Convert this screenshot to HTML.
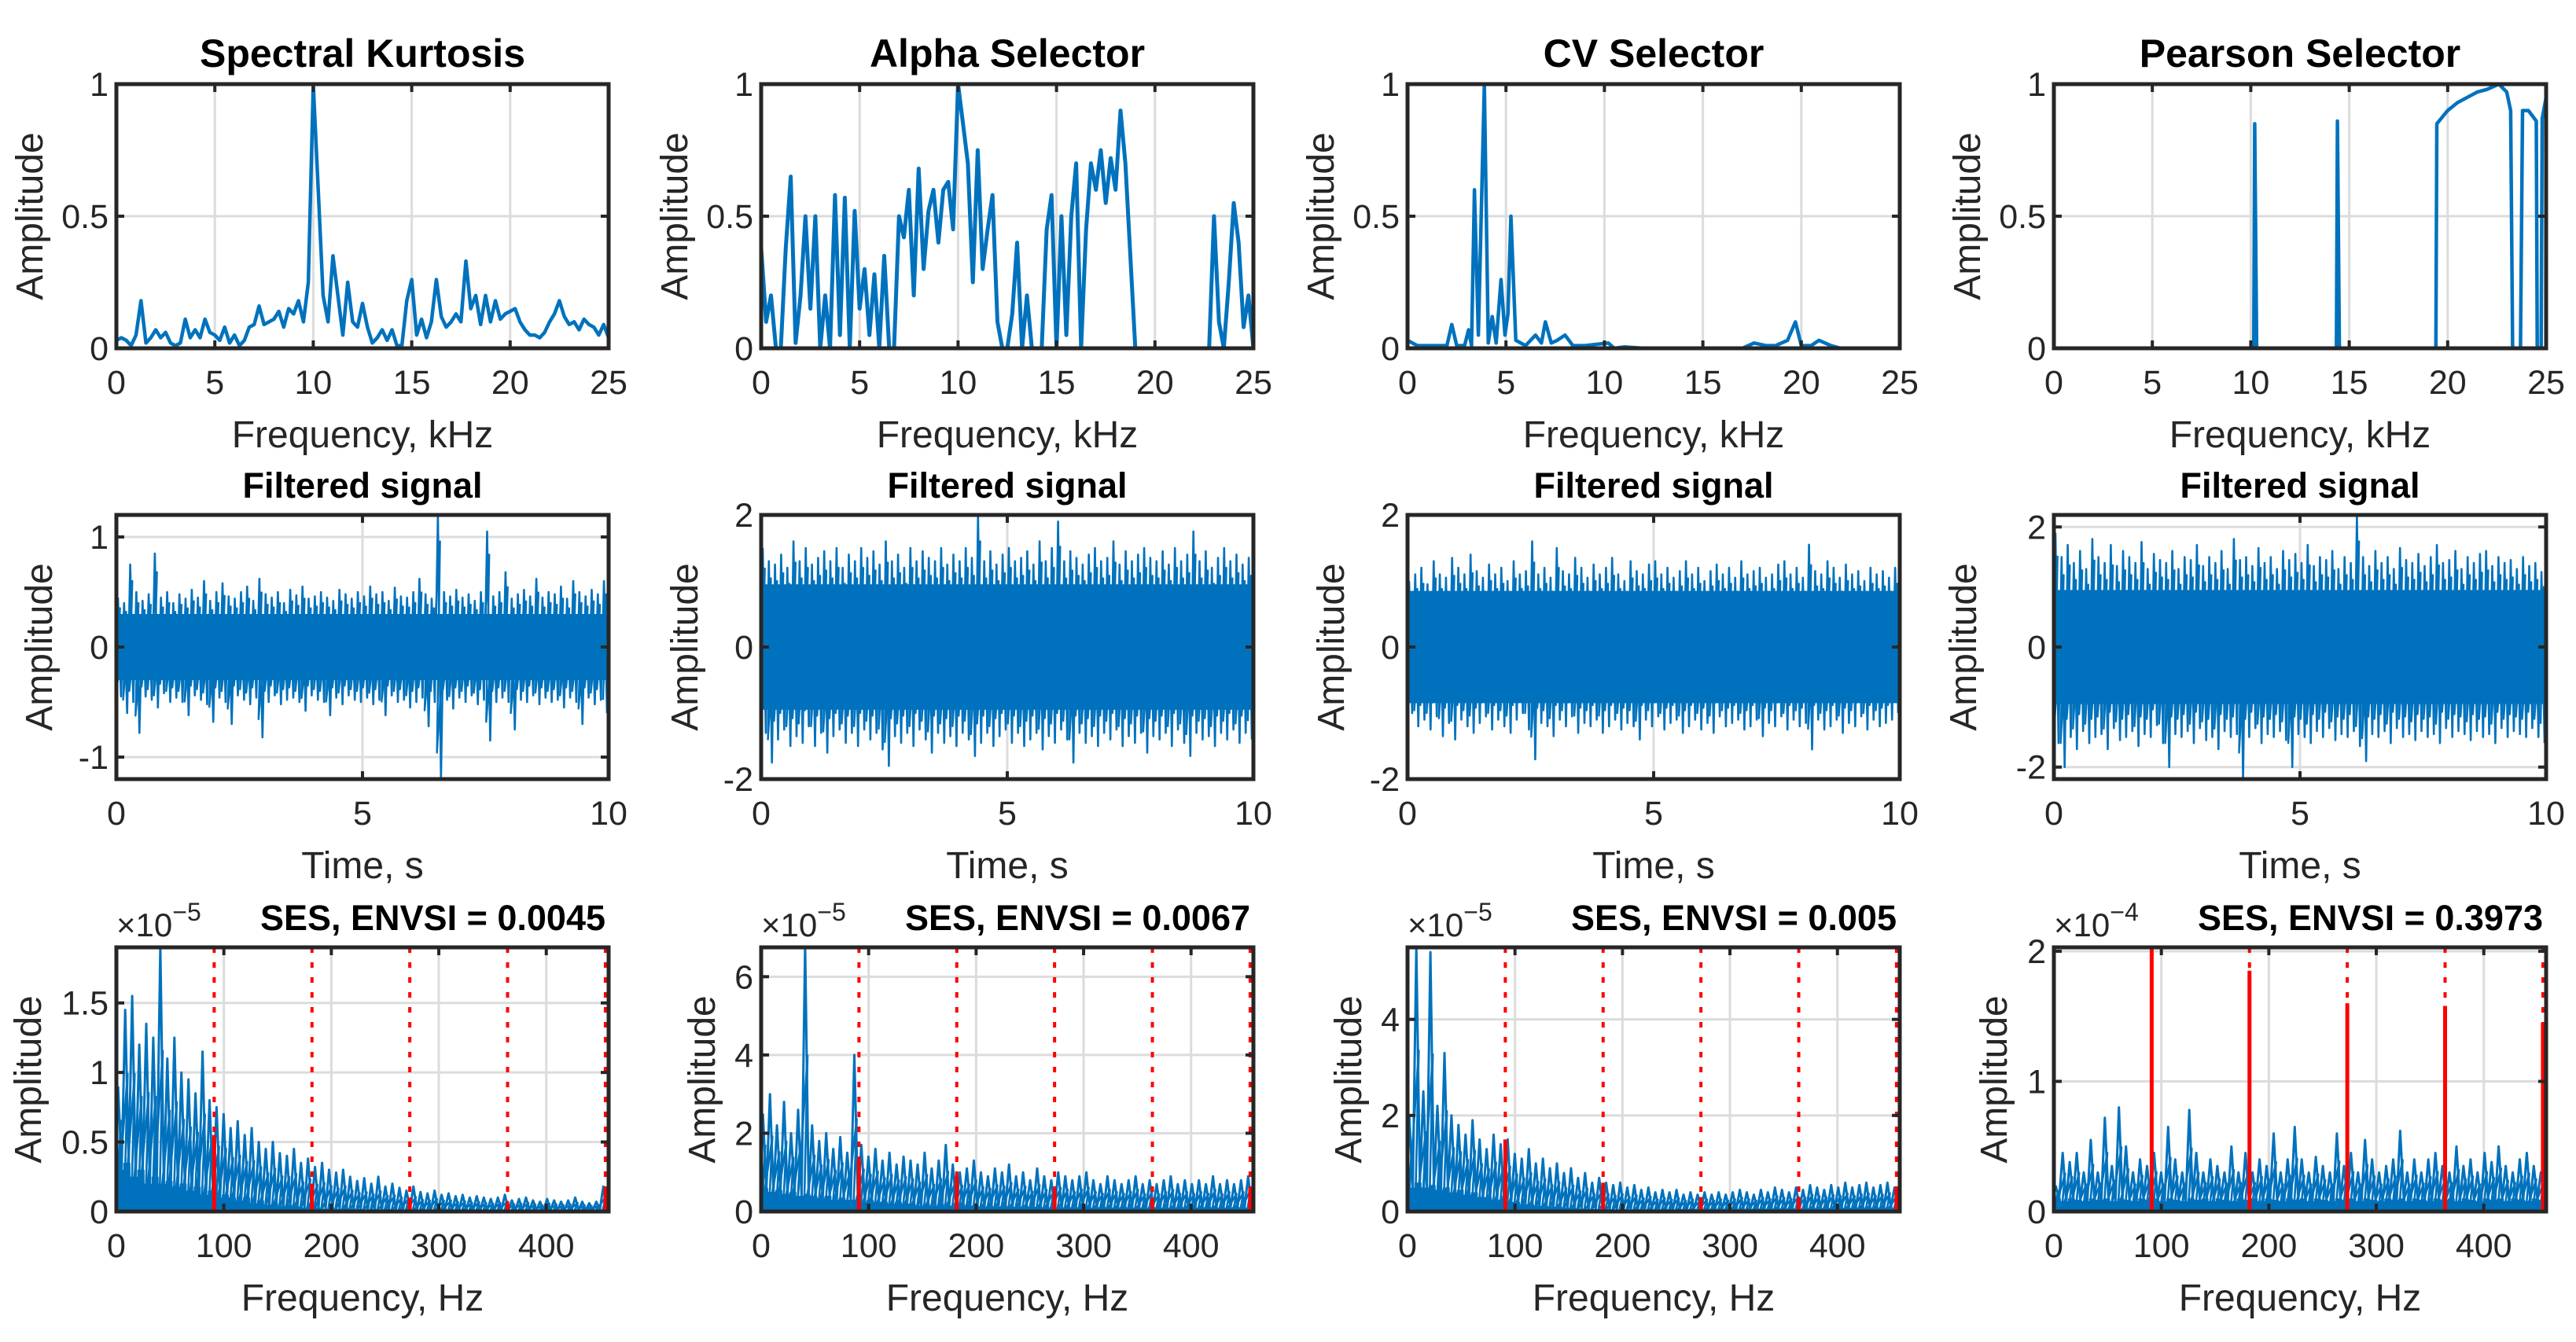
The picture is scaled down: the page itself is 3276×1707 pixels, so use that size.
<!DOCTYPE html>
<html><head><meta charset="utf-8">
<style>
html,body{margin:0;padding:0;background:#fff;}
svg{display:block;}
text{font-family:"Liberation Sans",Arial,sans-serif;fill:#262626;}
</style></head>
<body>
<svg id="fig" width="3276" height="1707" viewBox="0 0 3276 1707" xmlns="http://www.w3.org/2000/svg"></svg>
<script>
// ---------- Top row: selector spectra (kHz) ----------
const skAmp=[0.03,0.04,0.03,0.01,0.05,0.18,0.02,0.04,0.07,0.04,0.06,0.02,0.01,0.02,0.11,0.04,0.07,0.04,0.11,0.06,0.05,0.03,0.08,0.02,0.05,0.01,0.03,0.08,0.09,0.16,0.09,0.1,0.11,0.14,0.08,0.15,0.13,0.18,0.1,0.25,1.0,0.6,0.2,0.1,0.35,0.2,0.05,0.25,0.1,0.08,0.17,0.08,0.02,0.04,0.07,0.03,0.07,0.01,0.01,0.18,0.26,0.05,0.11,0.04,0.1,0.26,0.12,0.08,0.1,0.13,0.1,0.33,0.15,0.2,0.09,0.2,0.1,0.18,0.11,0.13,0.14,0.15,0.1,0.07,0.05,0.05,0.04,0.06,0.1,0.13,0.18,0.12,0.09,0.1,0.07,0.11,0.09,0.08,0.05,0.09,0.04];
const alphaAmp=[0.38,0.1,0.2,0,0,0.38,0.65,0.02,0.2,0.5,0.15,0.5,0,0.2,0,0.58,0.05,0.57,0,0.52,0.15,0.3,0.05,0.28,0,0.35,0,0,0.5,0.42,0.6,0.2,0.68,0.3,0.52,0.6,0.4,0.6,0.63,0.45,1.0,0.85,0.7,0.25,0.75,0.3,0.45,0.58,0.1,0,0,0.13,0.4,0,0.2,0,0,0,0.45,0.58,0,0.5,0.05,0.5,0.7,0,0.45,0.7,0.6,0.75,0.55,0.72,0.6,0.9,0.7,0.35,0,0,0,0,0,0,0,0,0,0,0,0,0,0,0,0,0.5,0.1,0,0.25,0.55,0.4,0.08,0.2,0];
const cvFreq=[0,0.5,1,1.5,2,2.25,2.5,2.9,3.1,3.25,3.4,3.6,3.9,4.1,4.3,4.5,4.75,4.95,5.1,5.25,5.5,6.0,6.5,6.8,7.0,7.3,7.6,8.0,8.4,9,10.2,10.5,11,12,17,17.6,18.2,18.7,19.3,19.7,20,20.5,20.9,21.5,22,25];
const cvAmp=[0.03,0.01,0.01,0.01,0.01,0.09,0.01,0.01,0.07,0.01,0.6,0.05,1.0,0.02,0.12,0.02,0.26,0.05,0.13,0.5,0.03,0.01,0.05,0.02,0.1,0.02,0.03,0.05,0.01,0.01,0.02,0,0.005,0,0,0.02,0.01,0.01,0.03,0.1,0.01,0.01,0.03,0.01,0,0];
const prFreq=[0,10.15,10.2,10.3,14.35,14.4,14.5,19.4,19.45,20,20.5,21,21.5,22,22.6,23,23.2,23.3,23.7,23.8,24.1,24.5,24.55,24.75,24.8,25];
const prAmp=[0,0,0.85,0,0,0.86,0,0,0.85,0.9,0.93,0.95,0.97,0.98,1.0,0.97,0.9,0,0,0.9,0.9,0.86,0,0,0.87,0.95];
const topTitles=["Spectral Kurtosis","Alpha Selector","CV Selector","Pearson Selector"];
const topXTicks=[0,5,10,15,20,25];
const topYTicks=[0,0.5,1];

// ---------- Middle row: filtered signals (envelope per time bin) ----------
const sigCore=[0.3,0.95,0.85,0.95];
const kHi=[0.45,0.4,0.75,0.5,0.42,0.48,0.85,0.45,0.5,0.4,0.48,0.44,0.52,0.45,0.6,0.42,0.5,0.58,0.46,0.44,0.5,0.55,0.42,0.62,0.48,0.45,0.5,0.4,0.52,0.47,0.55,0.44,0.46,0.5,0.45,0.42,0.52,0.48,0.44,0.5,0.46,0.55,0.48,0.5,0.42,0.54,0.46,0.45,0.5,0.62,0.48,0.44,1.2,0.5,0.46,0.52,0.45,0.48,0.42,0.5,1.05,0.46,0.5,0.68,0.44,0.48,0.52,0.46,0.62,0.45,0.5,0.48,0.55,0.44,0.6,0.5,0.46,0.52,0.48,0.6];
const kLo=[-0.45,-0.6,-0.5,-0.78,-0.45,-0.48,-0.55,-0.42,-0.5,-0.46,-0.5,-0.62,-0.44,-0.48,-0.52,-0.68,-0.46,-0.5,-0.7,-0.44,-0.48,-0.52,-0.46,-0.82,-0.5,-0.44,-0.52,-0.48,-0.46,-0.5,-0.58,-0.44,-0.48,-0.5,-0.62,-0.46,-0.52,-0.44,-0.48,-0.5,-0.46,-0.52,-0.48,-0.62,-0.44,-0.5,-0.48,-0.55,-0.5,-0.46,-0.72,-0.5,-1.2,-0.48,-0.56,-0.46,-0.5,-0.44,-0.52,-0.48,-0.85,-0.5,-0.46,-0.5,-0.75,-0.48,-0.5,-0.44,-0.52,-0.46,-0.5,-0.48,-0.55,-0.46,-0.5,-0.7,-0.46,-0.52,-0.48,-0.6];
const aHi=[1.5,1.3,1.25,1.4,1.2,1.6,1.3,1.5,1.25,1.35,1.45,1.3,1.5,1.2,1.4,1.3,1.5,1.35,1.45,1.25,1.6,1.3,1.4,1.2,1.5,1.3,1.45,1.35,1.3,1.5,1.25,1.4,1.3,1.5,1.35,2.0,1.3,1.45,1.25,1.4,1.5,1.3,1.35,1.45,1.25,1.6,1.3,1.5,1.9,1.3,1.45,1.35,1.25,1.4,1.5,1.3,1.35,1.6,1.25,1.45,1.3,1.4,1.5,1.35,1.3,1.45,1.25,1.5,1.3,1.4,1.75,1.3,1.45,1.2,1.35,1.5,1.3,1.4,1.25,1.35];
const aLo=[-1.3,-1.75,-1.4,-1.25,-1.5,-1.35,-1.45,-1.2,-1.5,-1.3,-1.6,-1.35,-1.25,-1.45,-1.3,-1.5,-1.25,-1.4,-1.3,-1.55,-1.8,-1.35,-1.45,-1.3,-1.5,-1.25,-1.4,-1.6,-1.3,-1.45,-1.35,-1.5,-1.3,-1.4,-1.65,-1.45,-1.3,-1.5,-1.35,-1.25,-1.45,-1.3,-1.5,-1.4,-1.3,-1.55,-1.35,-1.45,-1.25,-1.4,-1.75,-1.3,-1.45,-1.35,-1.5,-1.3,-1.4,-1.25,-1.5,-1.35,-1.45,-1.3,-1.6,-1.35,-1.4,-1.3,-1.5,-1.25,-1.45,-1.65,-1.3,-1.4,-1.35,-1.5,-1.3,-1.4,-1.25,-1.45,-1.3,-1.4];
const cHi=[1.0,1.1,1.2,0.95,1.3,1.1,1.05,1.35,1.2,1.1,1.4,1.15,1.05,1.25,1.1,1.2,1.0,1.3,1.1,1.15,1.6,1.1,1.2,1.05,1.5,1.15,1.1,1.35,1.2,1.05,1.25,1.1,1.2,1.35,1.1,1.0,1.3,1.15,1.1,1.25,1.3,1.1,1.2,1.05,1.15,1.3,1.1,1.2,1.0,1.15,1.25,1.1,1.2,1.05,1.3,1.1,1.15,1.2,1.05,1.1,1.25,1.3,1.1,1.2,1.05,1.55,1.15,1.1,1.3,1.2,1.05,1.25,1.1,1.15,1.0,1.2,1.1,1.15,1.05,1.2];
const cLo=[-1.0,-1.2,-1.1,-1.25,-1.05,-1.35,-1.15,-1.4,-1.1,-1.2,-1.3,-1.15,-1.05,-1.25,-1.1,-1.2,-1.3,-1.1,-1.0,-1.25,-1.7,-1.15,-1.2,-1.35,-1.1,-1.2,-1.05,-1.3,-1.15,-1.2,-1.1,-1.3,-1.2,-1.1,-1.25,-1.15,-1.2,-1.4,-1.1,-1.2,-1.05,-1.25,-1.15,-1.1,-1.3,-1.2,-1.1,-1.25,-1.15,-1.3,-1.05,-1.2,-1.15,-1.1,-1.25,-1.2,-1.1,-1.35,-1.15,-1.2,-1.05,-1.25,-1.1,-1.2,-1.15,-1.55,-1.1,-1.25,-1.2,-1.1,-1.3,-1.15,-1.2,-1.05,-1.25,-1.1,-1.2,-1.15,-1.1,-1.0];
const pHi=[1.9,1.5,1.7,1.4,1.6,1.3,1.8,1.5,1.4,1.7,1.35,1.6,1.5,1.4,1.75,1.3,1.55,1.45,1.4,1.6,1.3,1.5,1.45,1.7,1.35,1.5,1.4,1.6,1.3,1.8,1.45,1.5,1.35,1.65,1.4,1.5,1.3,1.6,1.45,1.55,1.4,1.7,1.35,1.5,1.45,1.6,1.3,1.5,1.4,2.2,1.5,1.35,1.6,1.4,1.5,1.3,1.65,1.45,1.4,1.55,1.35,1.5,1.7,1.4,1.45,1.6,1.3,1.5,1.4,1.55,1.6,1.35,1.5,1.4,1.45,1.3,1.5,1.35,1.4,1.25];
const pLo=[-1.6,-2.0,-1.5,-1.7,-1.4,-1.6,-1.5,-1.45,-1.7,-1.35,-1.55,-1.5,-1.4,-1.65,-1.45,-1.5,-1.3,-1.6,-2.0,-1.45,-1.5,-1.4,-1.6,-1.35,-1.55,-1.5,-1.7,-1.4,-1.5,-1.45,-2.2,-1.5,-1.35,-1.6,-1.45,-1.5,-1.4,-1.55,-2.0,-1.45,-1.5,-1.6,-1.4,-1.5,-1.35,-1.55,-1.45,-1.5,-1.4,-1.65,-1.9,-1.45,-1.5,-1.4,-1.6,-1.35,-1.5,-1.45,-1.55,-1.4,-1.5,-1.45,-1.6,-1.35,-1.5,-1.4,-1.45,-1.55,-1.4,-1.5,-1.45,-1.6,-1.35,-1.5,-1.4,-1.45,-1.5,-1.35,-1.5,-1.6];
const sigYLim=[1.2,2,2,2.2];
const sigYTicks=[[-1,0,1],[-2,0,2],[-2,0,2],[-2,0,2]];
const sigXTicks=[0,5,10];

// ---------- Bottom row: squared envelope spectra (Hz) ----------
const sesKPeak=[0.9,1.45,1.55,1.2,1.35,1.25,1.9,1.1,1.25,1.0,0.95,0.85,1.15,0.8,0.75,0.7,0.6,0.65,0.55,0.6,0.5,0.45,0.5,0.42,0.4,0.45,0.35,0.38,0.32,0.35,0.3,0.28,0.3,0.25,0.22,0.24,0.2,0.25,0.18,0.2,0.17,0.15,0.18,0.14,0.13,0.15,0.12,0.13,0.11,0.12,0.1,0.11,0.1,0.09,0.1,0.12,0.08,0.09,0.1,0.08,0.07,0.09,0.08,0.07,0.08,0.1,0.07,0.06,0.07,0.18];
const sesKLow=[0.3,0.35,0.25,0.3,0.2,0.25,0.2,0.22,0.18,0.2,0.15,0.18,0.12,0.15,0.1,0.12,0.1,0.08,0.1,0.06,0.08,0.05,0.06,0.04,0.05,0.04,0.03,0.04,0.03,0.02,0.03,0.02,0.03,0.02,0.02,0.01,0.02,0.01,0.02,0.01,0.01,0.02,0.01,0.01,0.01,0.01,0.02,0.01,0.01,0.01,0.01,0.01,0.01,0.01,0.01,0.01,0.01,0.01,0.01,0.01,0.01,0.01,0.01,0.01,0.01,0.01,0.01,0.01,0.01,0.01];
const sesAPeak=[2.5,3.0,2.2,2.8,2.0,2.6,6.8,2.2,1.8,2.0,1.6,1.9,1.5,4.0,1.7,1.4,1.6,1.3,1.5,1.2,1.4,1.3,1.2,1.5,1.1,1.3,1.7,1.2,1.0,1.1,1.3,1.0,0.9,1.1,1.0,1.2,0.9,1.0,0.8,1.1,0.9,0.8,1.0,0.9,0.8,0.9,1.0,0.8,0.7,0.9,0.8,0.7,0.8,0.9,0.7,0.8,0.7,0.8,0.9,0.7,0.8,0.7,0.8,0.7,0.9,0.7,0.8,0.7,0.8,0.9];
const sesALow=[0.6,0.5,0.55,0.45,0.5,0.4,0.45,0.4,0.35,0.4,0.3,0.35,0.3,0.3,0.25,0.3,0.25,0.25,0.2,0.25,0.2,0.2,0.15,0.2,0.15,0.2,0.15,0.15,0.2,0.15,0.15,0.12,0.15,0.12,0.15,0.12,0.12,0.15,0.12,0.12,0.1,0.12,0.1,0.12,0.1,0.12,0.1,0.1,0.12,0.1,0.1,0.12,0.1,0.1,0.1,0.12,0.1,0.1,0.1,0.12,0.1,0.1,0.1,0.12,0.1,0.1,0.1,0.12,0.1,0.1];
const sesCPeak=[2.0,5.5,2.5,5.4,2.2,3.3,2.0,1.8,1.6,1.9,1.5,1.3,1.6,1.4,1.5,1.2,1.1,1.3,1.0,1.1,0.9,1.0,0.8,0.9,0.7,0.8,0.6,0.7,0.6,0.55,0.6,0.5,0.55,0.45,0.5,0.4,0.45,0.4,0.45,0.35,0.4,0.35,0.4,0.35,0.4,0.35,0.4,0.45,0.4,0.35,0.45,0.4,0.5,0.45,0.4,0.5,0.45,0.55,0.5,0.45,0.55,0.5,0.6,0.5,0.55,0.6,0.5,0.55,0.6,0.5];
const sesCLow=[0.5,0.6,0.5,0.55,0.45,0.5,0.4,0.45,0.35,0.4,0.3,0.3,0.25,0.25,0.2,0.2,0.15,0.15,0.12,0.12,0.1,0.1,0.08,0.08,0.06,0.06,0.05,0.05,0.05,0.04,0.05,0.04,0.05,0.04,0.05,0.04,0.05,0.04,0.05,0.05,0.05,0.05,0.05,0.06,0.05,0.06,0.05,0.06,0.05,0.06,0.06,0.06,0.07,0.06,0.07,0.06,0.07,0.08,0.07,0.08,0.07,0.08,0.08,0.08,0.09,0.08,0.09,0.08,0.09,0.08];
const sesPPeak=[0.2,0.45,0.38,0.45,0.3,0.55,0.3,0.72,0.35,0.8,0.5,0.3,0.4,0.35,0.45,0.3,0.65,0.4,0.3,0.78,0.45,0.3,0.4,0.35,0.3,0.5,0.3,0.45,0.3,0.4,0.35,0.6,0.3,0.4,0.65,0.4,0.3,0.42,0.35,0.3,0.6,0.35,0.45,0.3,0.55,0.4,0.3,0.35,0.4,0.62,0.3,0.4,0.3,0.4,0.45,0.35,0.3,0.5,0.35,0.4,0.3,0.45,0.38,0.5,0.35,0.3,0.4,0.45,0.35,0.3];
const sesPLow=[0.1,0.08,0.1,0.09,0.08,0.1,0.09,0.1,0.08,0.1,0.09,0.08,0.1,0.09,0.1,0.08,0.1,0.09,0.08,0.1,0.09,0.1,0.08,0.1,0.09,0.08,0.1,0.09,0.1,0.08,0.1,0.09,0.08,0.1,0.09,0.1,0.08,0.1,0.09,0.08,0.1,0.09,0.1,0.08,0.1,0.09,0.08,0.1,0.09,0.1,0.08,0.1,0.09,0.08,0.1,0.09,0.1,0.08,0.1,0.09,0.08,0.1,0.09,0.1,0.08,0.1,0.09,0.08,0.1,0.09];
const harmonicsHz=[91,182,273,364,455];
const harmK=[0.55,0.2,0.1,0.05,0.15];
const harmA=[1.3,0.9,0.5,0.35,0.6];
const harmC=[1.5,0.6,0.3,0.3,0.5];
const harmP=[2.03,1.85,1.6,1.58,1.45];
const sesYLim=[1.9,6.75,5.5,2.03];
const sesYTicks=[[0,0.5,1,1.5],[0,2,4,6],[0,2,4],[0,1,2]];
const sesXTicks=[0,100,200,300,400];
const sesExp=["5","5","5","4"];
const sesTitles=["SES, ENVSI = 0.0045","SES, ENVSI = 0.0067","SES, ENVSI = 0.005","SES, ENVSI = 0.3973"];

// ---------- layout ----------
const NS="http://www.w3.org/2000/svg";
const svg=document.getElementById("fig");
const colX=[148,968,1790,2612], rowY=[107,655,1205], PW=626, PH=336;
const BLUE="#0072BD", GRID="#dcdcdc", AX="#262626";
function mk(tag,attrs,parent){const e=document.createElementNS(NS,tag);for(const k in attrs)e.setAttribute(k,attrs[k]);(parent||svg).appendChild(e);return e;}
function fmt(v){return (v<0?"-":"")+String(Math.abs(v));}

function makeAxes(c,r,xmin,xmax,ymin,ymax,name){
  const L=colX[c],T=rowY[r];
  const g=mk("g",{});
  
  
  const sx=v=>L+(v-xmin)/(xmax-xmin)*PW;
  const sy=v=>T+PH-(v-ymin)/(ymax-ymin)*PH;
  const cid="clip"+c+"_"+r;
  const cp=mk("clipPath",{id:cid},g);
  mk("rect",{x:L,y:T,width:PW,height:PH},cp);
  const grid=mk("g",{},g);
  
  
  const data=mk("g",{"clip-path":"url(#"+cid+")"},g);
  
  
  const front=mk("g",{},g);
  return {L,T,sx,sy,g,grid,data,front};
}
function finishAxes(a,xt,yt){
  for(const v of xt){const x=a.sx(v);
    if(x>a.L+2&&x<a.L+PW-2){const gl=mk("line",{x1:x,y1:a.T,x2:x,y2:a.T+PH,stroke:GRID,"stroke-width":3},a.grid);
      }
    mk("line",{x1:x,y1:a.T+PH,x2:x,y2:a.T+PH-10,stroke:AX,"stroke-width":4},a.front);
    mk("line",{x1:x,y1:a.T,x2:x,y2:a.T+10,stroke:AX,"stroke-width":4},a.front);
    const t=mk("text",{x:x,y:a.T+PH+58,"font-size":43,"text-anchor":"middle"},a.g);t.textContent=fmt(v);
    
  }
  for(const v of yt){const y=a.sy(v);
    if(y>a.T+2&&y<a.T+PH-2){const gl=mk("line",{x1:a.L,y1:y,x2:a.L+PW,y2:y,stroke:GRID,"stroke-width":3},a.grid);
      }
    mk("line",{x1:a.L,y1:y,x2:a.L+10,y2:y,stroke:AX,"stroke-width":4},a.front);
    mk("line",{x1:a.L+PW,y1:y,x2:a.L+PW-10,y2:y,stroke:AX,"stroke-width":4},a.front);
    const t=mk("text",{x:a.L-10,y:y+15,"font-size":43,"text-anchor":"end"},a.g);t.textContent=fmt(v);
    
  }
  const b=mk("rect",{x:a.L,y:a.T,width:PW,height:PH,fill:"none",stroke:AX,"stroke-width":5},a.front);
  
}
function labels(a,title,xlab,ylabOff,titleAnchorEnd,titleSize){
  const t=mk("text",{x:titleAnchorEnd?a.L+PW-4:a.L+PW/2,y:a.T-22,"font-size":titleSize,"font-weight":"bold","text-anchor":titleAnchorEnd?"end":"middle",style:"fill:#000"},a.g);
  t.textContent=title;
  const x=mk("text",{x:a.L+PW/2,y:a.T+PH+126,"font-size":48,"text-anchor":"middle"},a.g);
  x.textContent=xlab;
  const cx=a.L-ylabOff, cy=a.T+PH/2;
  const y=mk("text",{x:cx,y:cy,"font-size":48,"text-anchor":"middle",transform:"rotate(-90 "+cx+" "+cy+")",dy:"16"},a.g);
  y.textContent="Amplitude";
}
function polyline(a,pts,color,w,name){
  const p=mk("polyline",{points:pts.map(q=>q[0].toFixed(1)+","+q[1].toFixed(1)).join(" "),fill:"none",stroke:color,"stroke-width":w,"stroke-linejoin":"round"},a.data);
  return p;
}

// ----- Row 1 -----
const topUniform=[skAmp,alphaAmp];
const topNames=["kurtosis-curve","alpha-curve","cv-curve","pearson-curve"];
for(let c=0;c<4;c++){
  const a=makeAxes(c,0,0,25,0,1,"selector-panel-"+(c+1));
  let pts;
  if(c<2){const arr=topUniform[c];pts=arr.map((v,i)=>[a.sx(i*25/(arr.length-1)),a.sy(v)]);}
  else{const f=c==2?cvFreq:prFreq, v=c==2?cvAmp:prAmp;pts=f.map((x,i)=>[a.sx(x),a.sy(v[i])]);}
  polyline(a,pts,BLUE,c==1?5:4.5,topNames[c]);
  finishAxes(a,topXTicks,topYTicks);
  labels(a,topTitles[c],"Frequency, kHz",110,false,50);
}

// ----- Row 2 -----
const sigHi=[kHi,aHi,cHi,pHi], sigLo=[kLo,aLo,cLo,pLo];
const sigYOff=[94,93,93,111];
for(let c=0;c<4;c++){
  const lim=sigYLim[c];
  const a=makeAxes(c,1,0,10,-lim,lim,"filtered-signal-panel-"+(c+1));
  const core=mk("rect",{x:a.L,y:a.sy(sigCore[c]),width:PW,height:a.sy(-sigCore[c])-a.sy(sigCore[c]),fill:BLUE},a.data);
  
  const hi=sigHi[c],lo=sigLo[c],n=hi.length,pts=[];
  for(let i=0;i<n;i++){const t0=i*10/n;pts.push([a.sx(t0+2.5/n),a.sy(hi[i])]);pts.push([a.sx(t0+7.5/n),a.sy(lo[i])]);}
  polyline(a,pts,BLUE,2.6,"filtered-signal-trace");
  const pts2=[];
  for(let i=0;i<n;i++){const t0=i*10/n;pts2.push([a.sx(t0+6/n),a.sy(hi[i]*0.8)]);pts2.push([a.sx(t0+1/n),a.sy(lo[i]*0.8)]);}
  polyline(a,pts2,BLUE,2.4,"filtered-signal-trace-dense");
  finishAxes(a,sigXTicks,sigYTicks[c]);
  labels(a,"Filtered signal","Time, s",sigYOff[c]+4,false,45);
}

// ----- Row 3 -----
const sesPeaks=[sesKPeak,sesAPeak,sesCPeak,sesPPeak], sesLows=[sesKLow,sesALow,sesCLow,sesPLow];
const sesHarm=[harmK,harmA,harmC,harmP];
const sesYOff=[112,75,75,76];
const FMAX=458;
for(let c=0;c<4;c++){
  const a=makeAxes(c,2,0,FMAX,0,sesYLim[c],"ses-panel-"+(c+1));
  const pk=sesPeaks[c],lw=sesLows[c],n=pk.length,bw=FMAX/n;
  const area=[[a.sx(0),a.sy(0)]];
  for(let i=0;i<n;i++){area.push([a.sx(i*bw),a.sy(lw[i]||0)]);area.push([a.sx((i+1)*bw),a.sy(lw[i]||0)]);}
  area.push([a.sx(FMAX),a.sy(0)]);
  const ar=mk("polygon",{points:area.map(q=>q[0].toFixed(1)+","+q[1].toFixed(1)).join(" "),fill:BLUE},a.data);
  
  const pts=[];
  for(let i=0;i<n;i++){pts.push([a.sx(i*bw+bw*0.25),a.sy(pk[i])]);pts.push([a.sx(i*bw+bw*0.75),a.sy(lw[i]||0)]);}
  polyline(a,pts,BLUE,3,"ses-spectrum");
  const pts2=[];
  for(let i=0;i<n;i++){pts2.push([a.sx(i*bw+bw*0.6),a.sy((pk[i]+(lw[i]||0))*0.55)]);pts2.push([a.sx(i*bw+bw*0.1),a.sy(0)]);}
  polyline(a,pts2,BLUE,2.6,"ses-spectrum-dense");
  harmonicsHz.forEach((h,k)=>{
    const x=a.sx(h);
    const d=mk("line",{x1:x,y1:a.T,x2:x,y2:a.T+PH,stroke:"#ff0000","stroke-width":4,"stroke-dasharray":"7,12"},a.data);
    
    const s=mk("line",{x1:x,y1:a.sy(0),x2:x,y2:a.sy(sesHarm[c][k]),stroke:"#ff0000","stroke-width":5},a.data);
    
  });
  finishAxes(a,sesXTicks,sesYTicks[c]);
  labels(a,sesTitles[c],"Frequency, Hz",sesYOff[c],true,45);
  const ex=mk("text",{x:a.L,y:a.T-14,"font-size":42},a.g);
  
  ex.textContent="×10";
  const sup=mk("tspan",{dy:-20,"font-size":32},ex);sup.textContent="−"+sesExp[c];
}
</script>
</body></html>
